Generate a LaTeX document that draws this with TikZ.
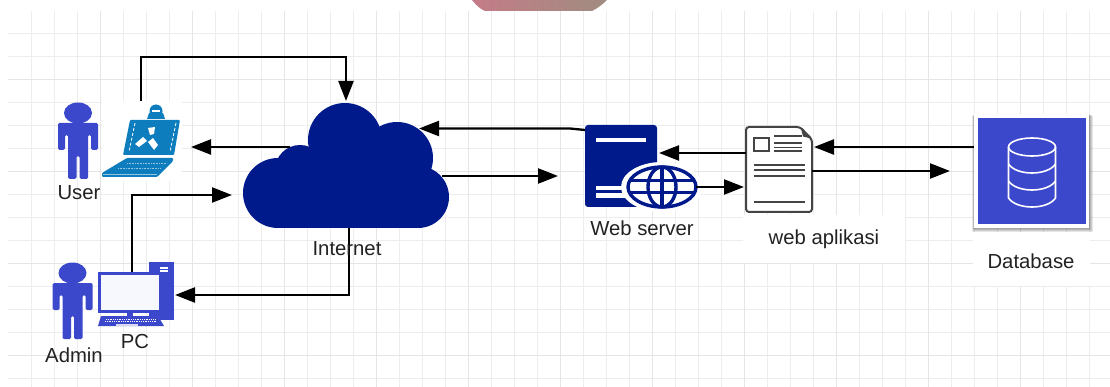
\documentclass[tikz,border=0pt]{standalone}
\usepackage{fontspec}
\setmainfont{Liberation Sans}
\usetikzlibrary{arrows.meta}
\definecolor{navyblue}{HTML}{001A8C}
\definecolor{iconblue}{HTML}{3B48CC}
\definecolor{laptopblue}{HTML}{0D7DBD}
\definecolor{docgray}{HTML}{444444}
\definecolor{textgray}{HTML}{222222}
\definecolor{blobleft}{HTML}{C47C88}
\definecolor{blobright}{HTML}{A08C80}
\tikzset{
  gridthin/.style={draw=black!7,line width=.9pt},
  gridthick/.style={draw=black!10,line width=.9pt},
  link/.style={draw=black,line width=2.3pt,-{Triangle[length=20pt,width=15pt]}},
  iconbox/.style={inner sep=0pt,outer sep=0pt},
  caption/.style={inner sep=0pt,text=textgray,font=\fontsize{20.3}{24}\selectfont},
  patch/.style={fill=white,draw=none},
  pics/person/.style={code={
    \fill[iconblue] (0,-28) ellipse (14 and 10.5);
    \fill[iconblue,rounded corners=1.5pt] (-20,-18) -- (20,-18) -- (20,9) -- (13,9) -- (13,-6) -- (10,-6) -- (10,38) -- (1.5,38) -- (1.5,15) -- (-1.5,15) -- (-1.5,38) -- (-10,38) -- (-10,-6) -- (-13,-6) -- (-13,9) -- (-20,9) -- cycle;
  }},
  pics/laptopicon/.style={code={
    \fill[laptopblue] (14,-30) circle (6.5);
    \fill[laptopblue] (5,-22) -- (7,-28) -- (21,-28) -- (23,-22) -- cycle;
    \fill[white] (10,-31) rectangle (18,-29);
    \fill[laptopblue,rounded corners=1pt] (-12,-21) -- (38,-21) -- (32,14) -- (-19,14) -- cycle;
    \draw[white,line width=.8pt,densely dashed] (-7,-18) -- (-13,11);
    \draw[white,line width=.8pt,densely dashed] (34,-18) -- (28,11);
    \fill[white] (6,-13) -- (13,-14) -- (12,-7) -- (8,-6) -- cycle;
    \fill[white] (-7,3) -- (1,-4) -- (5,0) -- (-3,6) -- cycle;
    \fill[white] (6,1) -- (11,-3) -- (16,4) -- (12,9) -- cycle;
    \fill[laptopblue,rounded corners=1pt] (-15,17) -- (31,17) -- (31,20) -- (15,36) -- (-40,36) -- (-40,32) -- cycle;
    \draw[white!55!laptopblue,line width=.6pt,densely dotted] (-15,22) -- (25,22);
    \draw[white!55!laptopblue,line width=.6pt,densely dotted] (-24,27) -- (19,27);
    \draw[white!55!laptopblue,line width=.6pt] (-39,33) -- (15,33);
  }},
  pics/pcicon/.style={code={
    \fill[iconblue] (13,-33) rectangle (38,25);
    \fill[white] (24,-28) rectangle (32,-26.5);
    \fill[white] (24,-25) rectangle (32,-23.5);
    \fill[iconblue] (-9,17) rectangle (-3,23);
    \draw[iconblue,line width=3pt,fill=white!96!iconblue] (-36.5,-21.5) rectangle (24.5,16.5);
    \fill[iconblue] (-35,21) -- (22,21) -- (28,31) -- (-38,31) -- cycle;
    \draw[white,line width=.8pt,densely dotted] (-30,24) -- (20,24);
    \draw[white,line width=.8pt,densely dotted] (-31,26.5) -- (21,26.5);
    \fill[white!80!iconblue] (-20,29) rectangle (2,31);
  }},
  pics/cloudicon/.style={code={
    \fill[navyblue] (-1,-25.5) circle (37);
    \fill[navyblue] (51,-7.5) circle (36);
    \fill[navyblue] (72,31.5) circle (31);
    \fill[navyblue] (-68,27.5) circle (35);
    \fill[navyblue] (-46,4.5) circle (25);
    \fill[navyblue] (-68,0) rectangle (72,62.5);
    \fill[navyblue] (-40,-15) rectangle (50,10);
  }},
  pics/servericon/.style={code={
    \fill[navyblue,rounded corners=3pt] (-56,-41) rectangle (16,41);
    \fill[white] (-45,-28) rectangle (5,-24);
    \fill[white] (-45,20.5) rectangle (-10,24);
    \fill[white] (-45,27) rectangle (-10,32);
    \fill[white] (21,21) ellipse (41 and 25);
    \draw[navyblue,line width=3.4pt] (21,21) ellipse (34 and 20);
    \draw[navyblue,line width=3.4pt] (21,21) ellipse (14 and 20);
    \draw[navyblue,line width=3.4pt] (21,1) -- (21,41);
    \draw[navyblue,line width=3pt] (-11,15) -- (53,15);
    \draw[navyblue,line width=3pt] (-11,27) -- (53,27);
  }},
  pics/docicon/.style={code={
    \draw[docgray,line width=2pt,fill=white,rounded corners=3pt] (-33,-42.5) -- (21,-42.5) -- (33,-30) -- (33,42.5) -- (-33,42.5) -- cycle;
    \fill[docgray] (22,-41) -- (32,-31) -- (24,-33) -- cycle;
    \draw[docgray,line width=2pt] (-25,-31.5) rectangle (-10,-18.5);
    \foreach \y in {-33.5,-26.5,-22,-18.5} {
      \draw[docgray,line width=1.6pt] (-5,\y) -- (23,\y);
    }
    \foreach \y in {-4.5,.5,6.5,32.5} {
      \draw[docgray,line width=1.6pt] (-25,\y) -- (26,\y);
    }
  }},
  pics/dbicon/.style={code={
    \foreach \s in {4,3,2,1} {
      \fill[black,opacity=.1] (-57.5-\s/2,-57+\s/2) rectangle (57.5+\s,57+\s);
    }
    \fill[white] (-57.5,-57) rectangle (57.5,57);
    \fill[iconblue] (-53.5,-53) rectangle (54,53);
    \draw[white,line width=1.6pt] (0.5,-24) ellipse (23.5 and 9);
    \draw[white,line width=1.6pt] (-23,-24) -- (-23,27) .. controls (-15,39) and (16,39) .. (24,27) -- (24,-24);
    \draw[white,line width=1.6pt] (-23,-7) .. controls (-15,5) and (16,5) .. (24,-7);
    \draw[white,line width=1.6pt] (-23,10) .. controls (-15,22) and (16,22) .. (24,10);
  }},
}
\begin{document}
\begin{tikzpicture}[x=1pt,y=-1pt]
\useasboundingbox (0,0) rectangle (1110,387);
\fill[white] (0,0) rectangle (1110,387);
\foreach \x in {31,54,...,1110} {
  \draw[gridthin] (\x,11) -- (\x,387);
}
\foreach \y in {33,56,...,378} {
  \draw[gridthin] (8,\y) -- (1110,\y);
}
\foreach \x in {100,192,...,1110} {
  \draw[gridthick] (\x,11) -- (\x,387);
}
\foreach \y in {79,171,...,355} {
  \draw[gridthick] (8,\y) -- (1110,\y);
}
\shade[left color=blobleft,right color=blobright] (472,0) .. controls (476,5) and (480,9) .. (485,11) -- (592,11) .. controls (598,8) and (603,4) .. (607,0) -- cycle;
\fill[patch] (743,215) rectangle (905,263);
\fill[patch] (973,232) rectangle (1090,286);

\node[iconbox] (user) at (78,141) {};
\pic at (user) {person};
\node[caption] (usertext) at (79,193) {User};
\node[iconbox,fill=white,minimum width=80pt,minimum height=80pt] (laptop) at (142,141) {};
\pic at (laptop) {laptopicon};
\node[iconbox] (admin) at (72.5,301) {};
\pic at (admin) {person};
\node[caption] (admintext) at (74,355) {Admin};
\node[iconbox,minimum width=76pt,minimum height=68pt] (pc) at (136,295) {};
\pic at (pc) {pcicon};
\node[caption] (pctext) at (135,342) {PC};
\node[iconbox,minimum width=206pt,minimum height=125pt] (cloud) at (346,165.5) {};
\pic at (cloud) {cloudicon};
\node[iconbox,minimum width=112pt,minimum height=82pt] (server) at (641,166) {};
\pic at (server) {servericon};
\node[caption] (servertext) at (642,228) {Web server};
\node[iconbox,minimum width=66pt,minimum height=85pt] (webapp) at (779,169.5) {};
\pic at (webapp) {docicon};
\node[caption] (webapptext) at (824,239) {web aplikasi};
\node[iconbox,minimum width=115pt,minimum height=114pt] (database) at (1031.5,171) {};
\pic at (database) {dbicon};
\node[caption] (databasetext) at (1031,261) {Database};
\coordinate (toproute) at (244,57);

\draw[link] ([xshift=-1pt]laptop.north) |- (toproute) -| ([yshift=2pt]cloud.north);
\draw[link] ([xshift=47pt,yshift=18.5pt]cloud.west) -- ([xshift=9pt,yshift=-6pt]laptop.east);
\draw[link] ([xshift=-4pt,yshift=-11pt]pc.north) |- ([xshift=-11pt,yshift=-29.5pt]cloud.west);
\draw[link] ([xshift=3pt]cloud.south) |- ([xshift=1pt]pc.east);
\draw[link] ([xshift=-7pt,yshift=-10.5pt]cloud.east) -- ([xshift=-27pt,yshift=-10pt]server.west);
\draw[link] ([yshift=36pt]server.west) -- ++(-15,-1.5) -- ([xshift=-30pt,yshift=37pt]cloud.east);
\draw[link] ([yshift=16.5pt]webapp.west) -- ([xshift=-38pt,yshift=13pt]server.east);
\draw[link] ([xshift=-1pt,yshift=-21pt]server.east) -- ([xshift=-2pt,yshift=-17.5pt]webapp.west);
\draw[link] ([yshift=24pt]database.west) -- ([xshift=2pt,yshift=22.5pt]webapp.east);
\draw[link] ([yshift=-1.5pt]webapp.east) -- ([xshift=-24pt]database.west);
\node[caption] (internettext) at (347,249) {Internet};
\end{tikzpicture}
\end{document}
